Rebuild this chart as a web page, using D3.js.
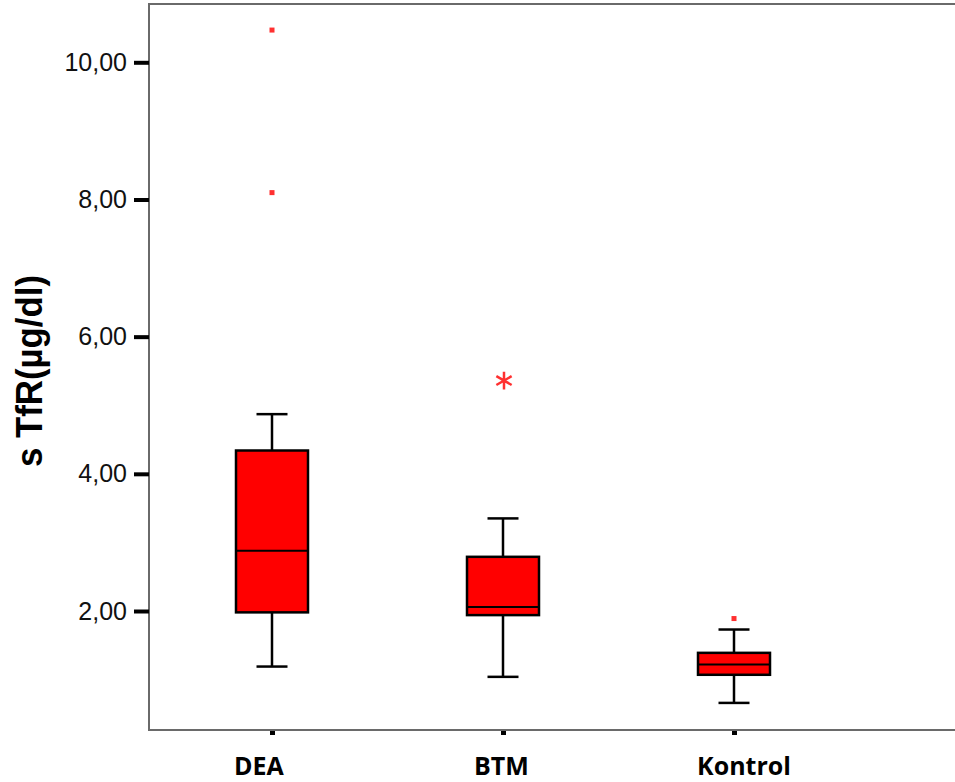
<!DOCTYPE html>
<html>
<head>
<meta charset="utf-8">
<script src="https://cdn.jsdelivr.net/npm/d3@7"></script>
<style>
  body { margin: 0; background: #fff; }
  svg { display: block; }
</style>
</head>
<body>
<div id="viz-container"></div>
<script>
// box plot values
let categories = ["DEA", "BTM", "Kontrol"];
let whiskerLow = [1.19, 1.04, 0.66];
let q1 = [1.98, 1.94, 1.07];
let median = [2.88, 2.06, 1.22];
let q3 = [4.34, 2.79, 1.39];
let whiskerHigh = [4.87, 3.35, 1.73];
let outliers = [[10.47, 8.10], [], [1.89]];
let extremes = [[], [5.36], []];
let yTicks = [2, 4, 6, 8, 10];

let W = 955, H = 782;
let plotLeft = 149, plotTop = 4, plotBottom = 730, plotRight = 975;

let viz = d3.select("#viz-container")
  .append("svg")
  .attr("width", W)
  .attr("height", H);

let y = d3.scaleLinear().domain([0.265, 10.85]).range([plotBottom, plotTop]);
let x = d3.scalePoint().domain(categories).range([272, 734]);
let xLabel = d3.scalePoint().domain(categories).range([259, 744]);

let boxes = categories.map(function(c, i){
  return {cat: c, lo: whiskerLow[i], q1: q1[i], med: median[i], q3: q3[i], hi: whiskerHigh[i],
          out: outliers[i], ext: extremes[i]};
});

// frame
viz.append("rect")
  .attr("x", plotLeft).attr("y", plotTop)
  .attr("width", plotRight - plotLeft).attr("height", plotBottom - plotTop)
  .attr("fill", "none")
  .attr("stroke", "#6a6a6a")
  .attr("stroke-width", 2);

// y axis
let yAxis = d3.axisLeft(y)
  .tickValues(yTicks)
  .tickSize(15)
  .tickPadding(7)
  .tickFormat(function(d){ return d3.format(".2f")(d).replace(".", ","); });

let yg = viz.append("g")
  .attr("transform", "translate(" + plotLeft + ",0)")
  .call(yAxis);
yg.select(".domain").remove();
yg.selectAll(".tick line").attr("stroke", "#000").attr("stroke-width", 4);
yg.selectAll(".tick text")
  .attr("fill", "#111")
  .style("font-family", "'Liberation Sans', Arial, sans-serif")
  .style("font-size", "25px");

// x axis tick marks
let xAxis = d3.axisBottom(x).tickSize(4).tickFormat("");
let xg = viz.append("g")
  .attr("transform", "translate(0," + (plotBottom + 1) + ")")
  .call(xAxis);
xg.select(".domain").remove();
xg.selectAll(".tick line").attr("stroke", "#000").attr("stroke-width", 5);

// x labels
viz.selectAll("text.cat").data(categories).enter().append("text")
  .attr("class", "cat")
  .attr("x", function(d){ return xLabel(d); })
  .attr("y", 775)
  .attr("text-anchor", "middle")
  .style("font-family", "'Open Sans', sans-serif")
  .style("font-weight", "700")
  .style("font-size", "25px")
  .attr("fill", "#000")
  .text(function(d){ return d; });

// y label
viz.append("text")
  .attr("transform", "translate(42,371) rotate(-90)")
  .attr("text-anchor", "middle")
  .attr("textLength", 192)
  .attr("lengthAdjust", "spacingAndGlyphs")
  .style("font-family", "'Liberation Sans', Arial, sans-serif")
  .style("font-weight", "700")
  .style("font-size", "36px")
  .attr("fill", "#000")
  .text("s TfR(\u00b5g/dl)");

let boxW = 72, capW = 31;

let g = viz.selectAll("g.box").data(boxes).enter().append("g")
  .attr("class", "box");

// whisker stems
g.append("line")
  .attr("x1", function(d){ return x(d.cat); })
  .attr("x2", function(d){ return x(d.cat); })
  .attr("y1", function(d){ return y(d.hi); })
  .attr("y2", function(d){ return y(d.lo); })
  .attr("stroke", "#000")
  .attr("stroke-width", 2.5);

// caps
g.selectAll("line.cap").data(function(d){ return [[d.cat, d.hi], [d.cat, d.lo]]; })
  .enter().append("line")
  .attr("class", "cap")
  .attr("x1", function(d){ return x(d[0]) - capW / 2; })
  .attr("x2", function(d){ return x(d[0]) + capW / 2; })
  .attr("y1", function(d){ return y(d[1]); })
  .attr("y2", function(d){ return y(d[1]); })
  .attr("stroke", "#000")
  .attr("stroke-width", 2.5);

// boxes
g.append("rect")
  .attr("x", function(d){ return x(d.cat) - boxW / 2; })
  .attr("y", function(d){ return y(d.q3); })
  .attr("width", boxW)
  .attr("height", function(d){ return y(d.q1) - y(d.q3); })
  .attr("fill", "#ff0000")
  .attr("stroke", "#000")
  .attr("stroke-width", 2.5);

// median
g.append("line")
  .attr("x1", function(d){ return x(d.cat) - boxW / 2; })
  .attr("x2", function(d){ return x(d.cat) + boxW / 2; })
  .attr("y1", function(d){ return y(d.med); })
  .attr("y2", function(d){ return y(d.med); })
  .attr("stroke", "#000")
  .attr("stroke-width", 2);

// outliers (small squares)
g.selectAll("rect.out").data(function(d){ return d.out.map(function(v){ return [d.cat, v]; }); })
  .enter().append("rect")
  .attr("class", "out")
  .attr("x", function(d){ return x(d[0]) - 2.5; })
  .attr("y", function(d){ return y(d[1]) - 2.5; })
  .attr("width", 5)
  .attr("height", 5)
  .attr("fill", "#ff3030");

// extremes (asterisk)
let star = d3.symbol().type(d3.symbolAsterisk).size(220);
g.selectAll("path.ext").data(function(d){ return d.ext.map(function(v){ return [d.cat, v]; }); })
  .enter().append("path")
  .attr("class", "ext")
  .attr("d", star)
  .attr("transform", function(d){ return "translate(" + (x(d[0]) + 1) + "," + y(d[1]) + ")"; })
  .attr("fill", "none")
  .attr("stroke", "#ff3030")
  .attr("stroke-width", 2.5);
</script>
</body>
</html>
